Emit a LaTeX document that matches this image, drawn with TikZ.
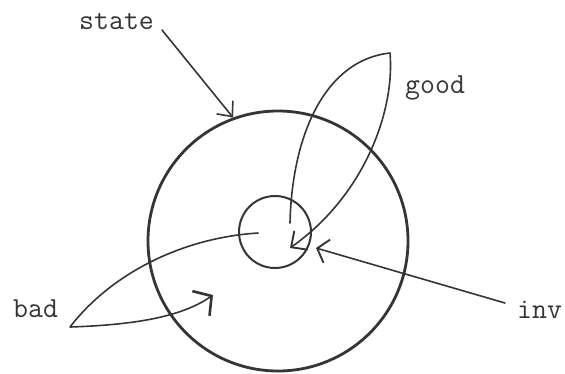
\documentclass[tikz,border=0pt]{standalone}
\usetikzlibrary{arrows.meta}
\definecolor{ink}{HTML}{353535}
\begin{document}
\begin{tikzpicture}[x=1pt,y=-1pt,
  ink/.style={draw=ink,line cap=round,line join=round},
  lbl/.style={anchor=base west,inner sep=0pt,text=ink,font=\fontsize{29}{30}\selectfont\ttfamily},
  ring/.style={ink,circle,inner sep=0pt},
  conn/.style={ink,line width=1.6pt}]
\useasboundingbox (0,0) rectangle (565,373);
% circles
\node[ring,line width=2.8pt,minimum size=260pt] (statec) at (278,241) {};
\node[ring,line width=2pt,minimum size=72pt] (invc) at (275,232) {};
% labels
\node[lbl] (state) at (79,29) {state};
\node[lbl] (good) at (405,93) {good};
\node[lbl] (bad) at (13,317) {bad};
\node[lbl] (inv) at (517,318) {inv};
% free points
\coordinate (gs) at (290,223);
\coordinate (gtop) at (390,53);
\coordinate (gend) at (290,248);
\coordinate (bs) at (258,233);
\coordinate (btip) at (70,327);
\coordinate (bend) at (213,295);
\coordinate (itip) at (316,248);
\coordinate (istart) at (505,303);
% state arrow
\draw[conn,-{Straight Barb[length=12pt,width=21pt,line width=1.6pt]}] (162,30) -- (statec.110);
% good loop
\draw[conn,-{Straight Barb[length=12pt,width=23pt,line width=1.9pt]}]
  (gs) .. controls (292,135) and (325,60) .. (gtop)
       .. controls (395,110) and (365,195) .. (gend);
% bad loop
\draw[conn,-{Straight Barb[length=13pt,width=30pt,line width=2.6pt]}]
  (bs) .. controls (180,238) and (110,275) .. (btip)
       .. controls (130,325) and (180,318) .. (bend);
% inv arrow
\draw[conn,-{Straight Barb[length=10pt,width=24pt,line width=1.9pt]}] (istart) -- (itip);
\end{tikzpicture}
\end{document}
